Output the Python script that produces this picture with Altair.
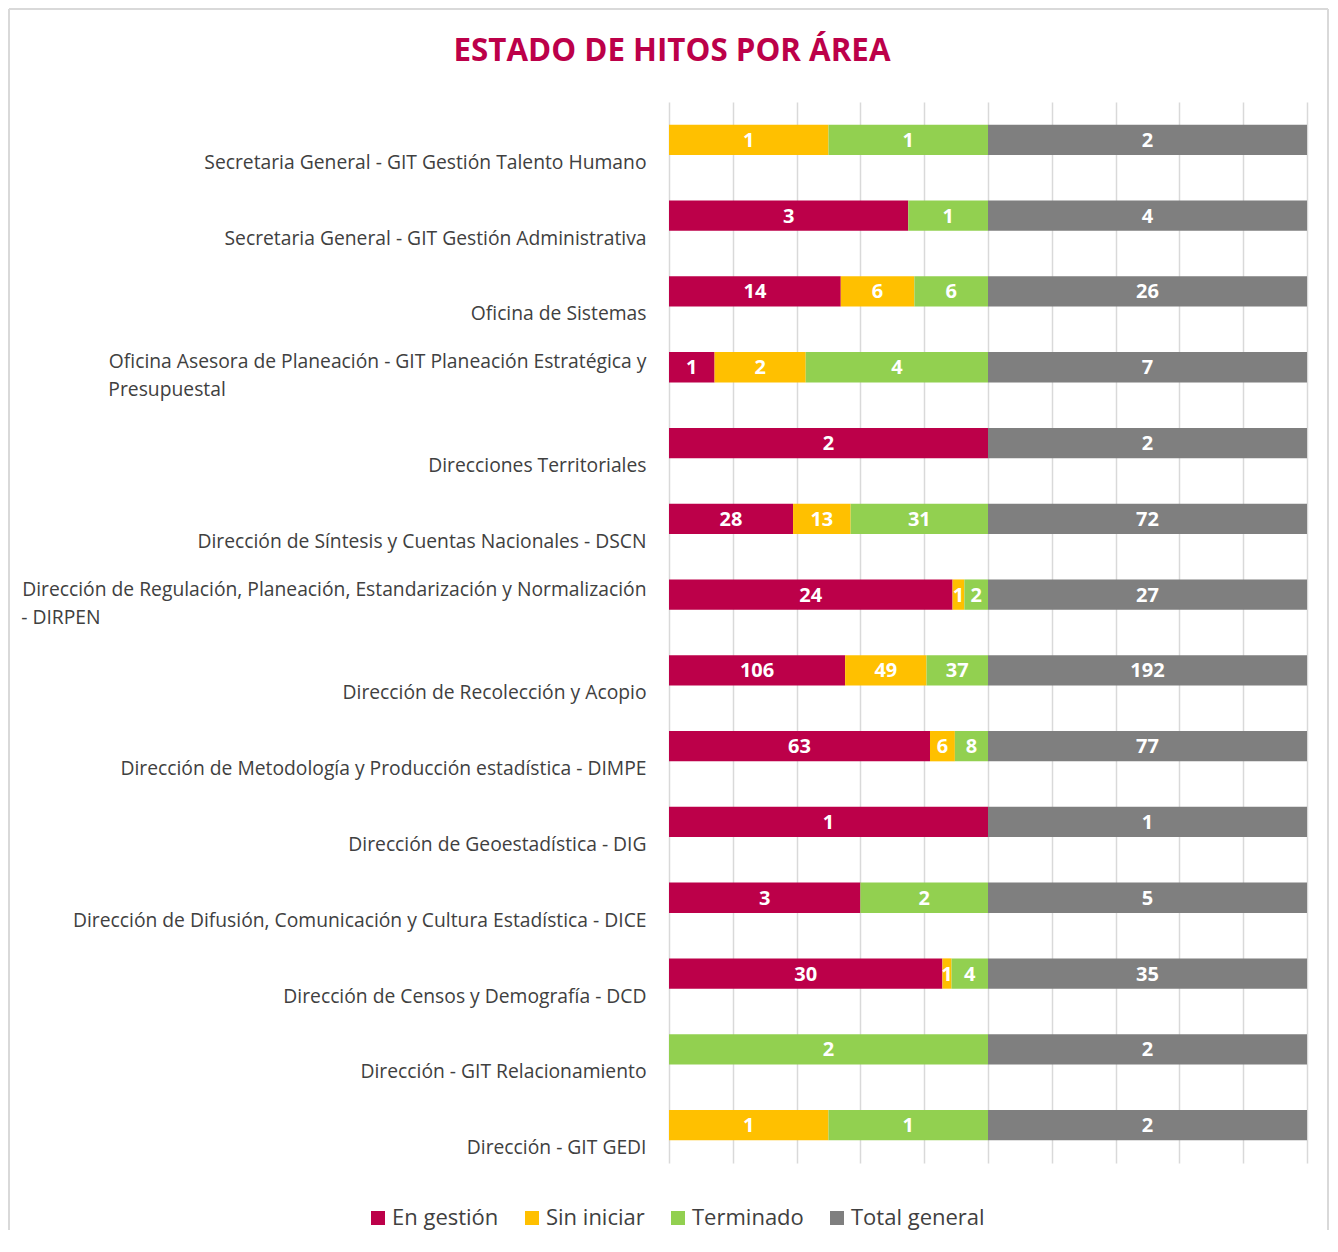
import altair as alt
import pandas as pd

areas = [
    "Secretaria General - GIT Gestión Talento Humano",
    "Secretaria General - GIT Gestión Administrativa",
    "Oficina de Sistemas",
    "Oficina Asesora de Planeación - GIT Planeación Estratégica y|Presupuestal",
    "Direcciones Territoriales",
    "Dirección de Síntesis y Cuentas Nacionales - DSCN",
    "Dirección de Regulación, Planeación, Estandarización y Normalización|- DIRPEN",
    "Dirección de Recolección y Acopio",
    "Dirección de Metodología y Producción estadística - DIMPE",
    "Dirección de Geoestadística - DIG",
    "Dirección de Difusión, Comunicación y Cultura Estadística - DICE",
    "Dirección de Censos y Demografía - DCD",
    "Dirección - GIT Relacionamiento",
    "Dirección - GIT GEDI",
]
en_gestion = [0, 3, 14, 1, 2, 28, 24, 106, 63, 1, 3, 30, 0, 0]
sin_iniciar = [1, 0, 6, 2, 0, 13, 1, 49, 6, 0, 0, 1, 0, 1]
terminado = [1, 1, 6, 4, 0, 31, 2, 37, 8, 0, 2, 4, 2, 1]
total_general = [2, 4, 26, 7, 2, 72, 27, 192, 77, 1, 5, 35, 2, 2]
series = ["En gestión", "Sin iniciar", "Terminado", "Total general"]
colors = ["#BC0049", "#FFC000", "#92D050", "#7F7F7F"]
grid_values = [0, 0.1, 0.2, 0.3, 0.4, 0.5, 0.6, 0.7, 0.8, 0.9, 1.0]

# second wrapped line is left-aligned under the first: pad it with no-break spaces
# (closed by a zero-width space so the padding is not trimmed away)
NBSP = "\u00a0"
ZWSP = "\u200b"
second_line_pad = {3: 84, 6: 109}
labels = [
    a + (NBSP * second_line_pad[i] + ZWSP if i in second_line_pad else "")
    for i, a in enumerate(areas)
]

rows = []
for i, a in enumerate(labels):
    for k, (s, vals) in enumerate(zip(series, [en_gestion, sin_iniciar, terminado, total_general])):
        rows.append({"area": a, "serie": s, "orden": k, "valor": vals[i]})
df = pd.DataFrame(rows)

FONT = "Open Sans"
BORDER = "#D9D9D9"

base = (
    alt.Chart(df)
    .transform_filter("datum.valor > 0")
    .transform_stack(
        stack="valor",
        groupby=["area"],
        as_=["x0", "x1"],
        offset="normalize",
        sort=[alt.SortField("orden", order="ascending")],
    )
    .transform_calculate(xm="(datum.x0 + datum.x1) / 2")
)

y_enc = alt.Y(
    "area:N",
    sort=labels,
    scale=alt.Scale(paddingInner=0.6, paddingOuter=0.3),
    axis=alt.Axis(
        title=None,
        domain=False,
        ticks=False,
        grid=False,
        labelExpr="split(datum.label, '|')",
        labelFont=FONT,
        labelFontSize=19.3,
        labelColor="#404040",
        labelPadding=23,
        labelLimit=900,
        labelBaseline="bottom",
        labelOffset={
            "condition": {"test": "indexof(datum.value, '|') >= 0", "value": 5},
            "value": 33,
        },
        labelLineHeight=28,
        minExtent=661,
        maxExtent=661,
    ),
)

bars = base.mark_bar().encode(
    x=alt.X(
        "x0:Q",
        scale=alt.Scale(domain=[0, 1], nice=False),
        axis=alt.Axis(
            values=grid_values,
            grid=True,
            labels=False,
            ticks=False,
            domain=False,
            title=None,
            gridColor="#D9D9D9",
            gridWidth=1.5,
            minExtent=0,
            maxExtent=0,
        ),
    ),
    x2="x1:Q",
    y=y_enc,
    color=alt.Color(
        "serie:N",
        scale=alt.Scale(domain=series, range=colors),
        legend=alt.Legend(
            title=None,
            orient="none",
            direction="horizontal",
            legendX=-302,
            legendY=1105,
            symbolType="square",
            symbolSize=196,
            symbolStrokeWidth=0,
            labelFont=FONT,
            labelFontSize=22,
            labelColor="#404040",
            labelOffset=3,
            columnPadding=22,
        ),
    ),
)

texts = base.mark_text(
    color="white", fontWeight="bold", font=FONT, fontSize=20, baseline="middle", dy=1
).encode(
    x="xm:Q",
    y=alt.Y("area:N", sort=labels),
    text="valor:Q",
)

frame_df = pd.DataFrame({"b": [0]})
left_rule = alt.Chart(frame_df).mark_rule(color=BORDER, strokeWidth=2).encode(
    x=alt.value(-660), y=alt.value(-93), y2=alt.value(1128)
)
right_rule = alt.Chart(frame_df).mark_rule(color=BORDER, strokeWidth=2).encode(
    x=alt.value(659), y=alt.value(-93), y2=alt.value(1128)
)
top_rule = alt.Chart(frame_df).mark_rule(color=BORDER, strokeWidth=2).encode(
    x=alt.value(-660), x2=alt.value(659), y=alt.value(-93)
)

chart = (
    alt.layer(left_rule, right_rule, top_rule, bars, texts)
    .properties(
        width=638,
        height=1061,
        padding=0,
        title=alt.TitleParams(
            "ESTADO DE HITOS POR ÁREA",
            font=FONT,
            fontSize=31.3,
            fontWeight="bold",
            color="#BC0049",
            anchor="middle",
            frame="group",
            dx=-316,
            dy=59,
            offset=0,
        ),
    )
    .configure_view(stroke=None)
)

chart.save("out.html", embed_options={"renderer": "svg", "actions": False})
